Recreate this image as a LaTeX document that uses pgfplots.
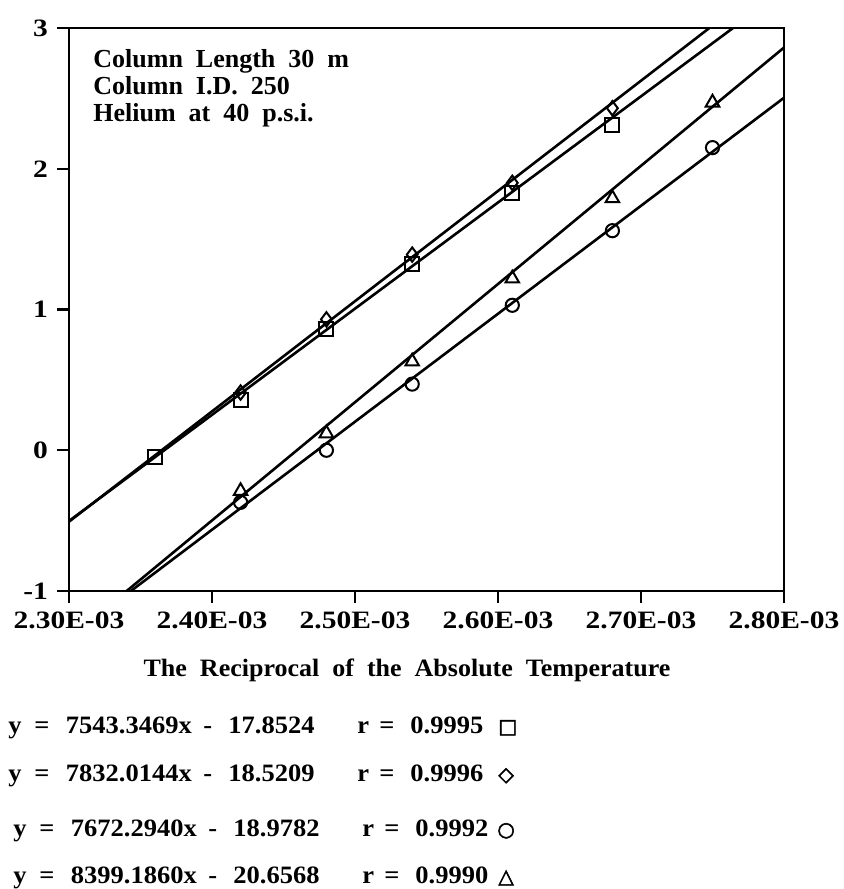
\documentclass[border=0pt]{standalone}
\usepackage{fontspec}
\setmainfont{Liberation Serif}
\newfontfamily\tickfont[FakeStretch=1.18]{Liberation Serif}
\newfontfamily\lblfont[FakeStretch=1.04]{Liberation Serif}
\newfontfamily\eqfont[FakeStretch=1.06]{Liberation Serif}
\newfontfamily\symfont[FakeBold=2.5]{DejaVu Sans}
\usepackage{pgfplots}
\pgfplotsset{compat=1.18}
\newcommand\eqline[7]{%
  \node[eq] at (-30.5+#2,#1) {y};
  \node[eq] at (-17.5+#2,#1) {=};
  \node[eq] at (-1.75+#2,#1) {#3x};
  \node[eq] at (67+#2,#1) {-};
  \node[eq] at (79.5+#2,#1) {#4};
  \node[eq] at (144+#2,#1) {r};
  \node[eq] at (155+#2,#1) {=};
  \node[eq] at (170.5+#2,#1) {#5};
  \node[eq] at (214.5+#7,#1) {\symfont\fontsize{10}{10}\selectfont #6};
}
\begin{document}
\begin{tikzpicture}[x=1pt,y=1pt]
\path[use as bounding box] (-34.5,-149) rectangle (387.5,295.5);
\begin{axis}[
  at={(0,0)}, anchor=south west,
  scale only axis, width=357.5pt, height=281.5pt,
  xmin=0.0023, xmax=0.0028, ymin=-1, ymax=3,
  scaled x ticks=false,
  xtick={0.0023,0.0024,0.0025,0.0026,0.0027,0.0028},
  xticklabels={2.30E-03,2.40E-03,2.50E-03,2.60E-03,2.70E-03,2.80E-03},
  ytick={-1,0,1,2,3},
  yticklabels={-1,0,1,2,3},
  /pgf/number format/assume math mode=true,
  tick pos=left, tick align=outside, major tick length=6pt,
  tick style={line width=1.2pt, black},
  axis line style={line width=1.3pt},
  ticklabel style={font=\tickfont\fontsize{12.5}{13}\selectfont\bfseries},
  xticklabel style={yshift=-1pt},
  yticklabel style={xshift=-1pt},
  clip=true,
]
% regression lines (endpoints from the printed equations)
\addplot[black, line width=1.3pt] coordinates {(0.0023,-0.50270) (0.0028,3.26897)};
\addplot[black, line width=1.3pt] coordinates {(0.0023,-0.50727) (0.0028,3.40874)};
\addplot[black, line width=1.3pt] coordinates {(0.0023,-1.33192) (0.0028,2.50422)};
\addplot[black, line width=1.3pt] coordinates {(0.0023,-1.33867) (0.0028,2.86092)};
% data points
\addplot[only marks, mark=diamond, mark size=3.6pt, mark options={fill=white, line width=1pt}] coordinates {
 (0.00242,0.41) (0.00248,0.93) (0.00254,1.39) (0.00261,1.90) (0.00268,2.43)};
\addplot[only marks, mark=square, mark size=3.5pt, mark options={fill=white, line width=1pt}] coordinates {
 (0.00236,-0.05) (0.00242,0.36) (0.00248,0.86) (0.00254,1.32) (0.00261,1.83) (0.00268,2.31)};
\addplot[only marks, mark=triangle, mark size=3.9pt, mark options={fill=white, line width=1pt}] coordinates {
 (0.00242,-0.29) (0.00248,0.12) (0.00254,0.63) (0.00261,1.22) (0.00268,1.79) (0.00275,2.47)};
\addplot[only marks, mark=o, mark size=3.3pt, mark options={fill=white, line width=1pt}] coordinates {
 (0.00242,-0.37) (0.00248,0.00) (0.00254,0.47) (0.00261,1.03) (0.00268,1.56) (0.00275,2.15)};
\end{axis}
% annotation
\node[anchor=base west, align=left, inner sep=0pt, font=\fontsize{13}{13.5}\selectfont\bfseries] at (12,234.5)
  {Column\ \ Length\ \ 30\ \ m\\Column\ \ I.D.\ \ 250\\Helium\ \ at\ \ 40\ \ p.s.i.};
% x label
\node[anchor=base, inner sep=0pt, font=\lblfont\fontsize{12.5}{13}\selectfont\bfseries] at (169,-42.5)
  {The\ \ Reciprocal\ \ of\ \ the\ \ Absolute\ \ Temperature};
% equations
\tikzset{eq/.style={anchor=base west, inner sep=0pt, font=\eqfont\fontsize{12.5}{13}\selectfont\bfseries}}
\eqline{-71}{0}{7543.3469}{17.8524}{0.9995}{□}{0}
\eqline{-95}{0}{7832.0144}{18.5209}{0.9996}{◇}{0}
\eqline{-122.5}{2.5}{7672.2940}{18.9782}{0.9992}{○}{-0.5}
\eqline{-146}{2.5}{8399.1860}{20.6568}{0.9990}{△}{0}
\end{tikzpicture}
\end{document}
